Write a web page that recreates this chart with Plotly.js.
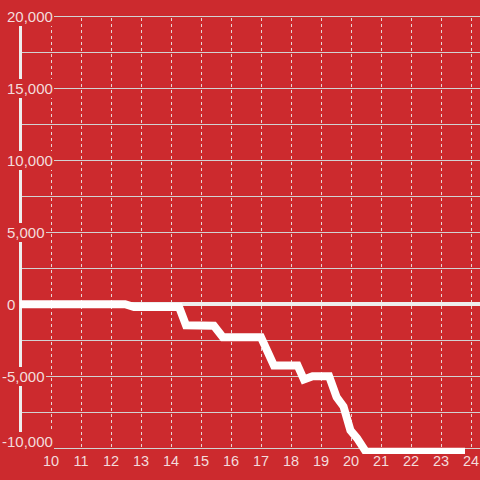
<!DOCTYPE html>
<html>
<head>
<meta charset="utf-8">
<script src="https://cdn.plot.ly/plotly-3.0.1.min.js"></script>
<style>html,body{margin:0;padding:0;background:#cc2a2e;}#chart{width:480px;height:480px;}</style>
</head>
<body>
<div id="chart"></div>
<script>
// ---- data ----
const xValues = [8.97, 12.47, 12.77, 14.27, 14.5, 15.43, 15.73, 17.0, 17.43, 18.22, 18.43, 18.72, 19.27, 19.52, 19.75, 19.98, 20.2, 20.5, 23.8];
const yValues = [0, 0, -200, -200, -1460, -1500, -2300, -2300, -4250, -4250, -5230, -5000, -5000, -6450, -7100, -8750, -9300, -10250, -10250];
const xTickVals = [10, 11, 12, 13, 14, 15, 16, 17, 18, 19, 20, 21, 22, 23, 24];
const xTickText = ['10', '11', '12', '13', '14', '15', '16', '17', '18', '19', '20', '21', '22', '23', '24'];
const yTickVals = [-10000, -7500, -5000, -2500, 0, 2500, 5000, 7500, 10000, 12500, 15000, 17500, 20000];
const yTickText = ['-10,000', '', '-5,000', '', '0', '', '5,000', '', '10,000', '', '15,000', '', '20,000'];

// ---- style ----
const BG = '#cc2a2e';
const TXT = '#f3dcdc';
const W = 480, H = 480;
const PXPERUNIT = 0.0144;            // vertical pixels per value unit
const xRange = [8.3, 24.3];
const yTopGrid = 20000, yBottomGrid = -10000;
const yRange = [-10400, yTopGrid + 16 / PXPERUNIT];
const plotH = (yRange[1] - yRange[0]) * PXPERUNIT;
const MB = H - plotH;
const axisX = xRange[0] + 20.5 / 30;  // position of the vertical axis line (data units)

const shapes = [
  // mask left of the axis line
  {type: 'rect', layer: 'between', xref: 'x', yref: 'y', x0: xRange[0], x1: xRange[0] + 19 / 30, y0: yRange[0], y1: yRange[1],
   fillcolor: BG, line: {width: 0}},
  // mask below the lowest gridline
  {type: 'rect', layer: 'between', xref: 'x', yref: 'y', x0: xRange[0], x1: xRange[1], y0: yRange[0], y1: yBottomGrid - 70,
   fillcolor: BG, line: {width: 0}},
  // mask above the top gridline
  {type: 'rect', layer: 'between', xref: 'x', yref: 'y', x0: xRange[0], x1: xRange[1], y0: yTopGrid + 70, y1: yRange[1],
   fillcolor: BG, line: {width: 0}},
  // vertical axis line
  {type: 'line', layer: 'between', xref: 'x', yref: 'y', x0: axisX, x1: axisX, y0: yBottomGrid, y1: yTopGrid,
   line: {color: '#eeeeee', width: 3}}
];

// y tick labels, left aligned on the digits, drawn with a background box
const annotations = [];
const lowestLabel = Math.min.apply(null, yTickVals.filter(function (v, i) { return yTickText[i]; }));
yTickVals.forEach(function (v, i) {
  const t = yTickText[i];
  if (!t) return;
  const neg = t.charAt(0) === '-';
  annotations.push({
    xref: 'paper', yref: 'y', x: (neg ? 0.5 : 5.5) / W, y: v,
    xanchor: 'left', yanchor: 'middle', showarrow: false,
    yshift: v === lowestLabel ? 7 : 0,
    text: t, bgcolor: BG, borderpad: 1, borderwidth: 0,
    font: {size: 15, color: TXT, family: 'Liberation Sans, Arial, sans-serif'}
  });
});

const trace = {
  x: xValues, y: yValues, type: 'scatter', mode: 'lines',
  line: {color: '#ffffff', width: 8, shape: 'linear'},
  hoverinfo: 'skip'
};

const layout = {
  width: W, height: H,
  paper_bgcolor: BG, plot_bgcolor: BG,
  margin: {l: 0, r: 0, t: 0, b: MB, pad: 0},
  showlegend: false,
  font: {family: 'Liberation Sans, Arial, sans-serif', color: TXT},
  xaxis: {
    range: xRange, tickvals: xTickVals, ticktext: xTickText,
    showgrid: true, gridcolor: '#e6d6d6', griddash: 'dot', gridwidth: 1,
    zeroline: false, showline: false, ticks: '',
    tickfont: {size: 14.5, color: TXT}, ticklabelstandoff: -4
  },
  yaxis: {
    range: yRange, tickvals: yTickVals, ticktext: yTickText,
    showgrid: true, gridcolor: '#d2d2d2', gridwidth: 1,
    zeroline: true, zerolinecolor: '#eeeeee', zerolinewidth: 4,
    showline: false, ticks: '', showticklabels: false
  },
  shapes: shapes,
  annotations: annotations
};

Plotly.newPlot('chart', [trace], layout, {displayModeBar: false, staticPlot: true});
</script>
</body>
</html>
